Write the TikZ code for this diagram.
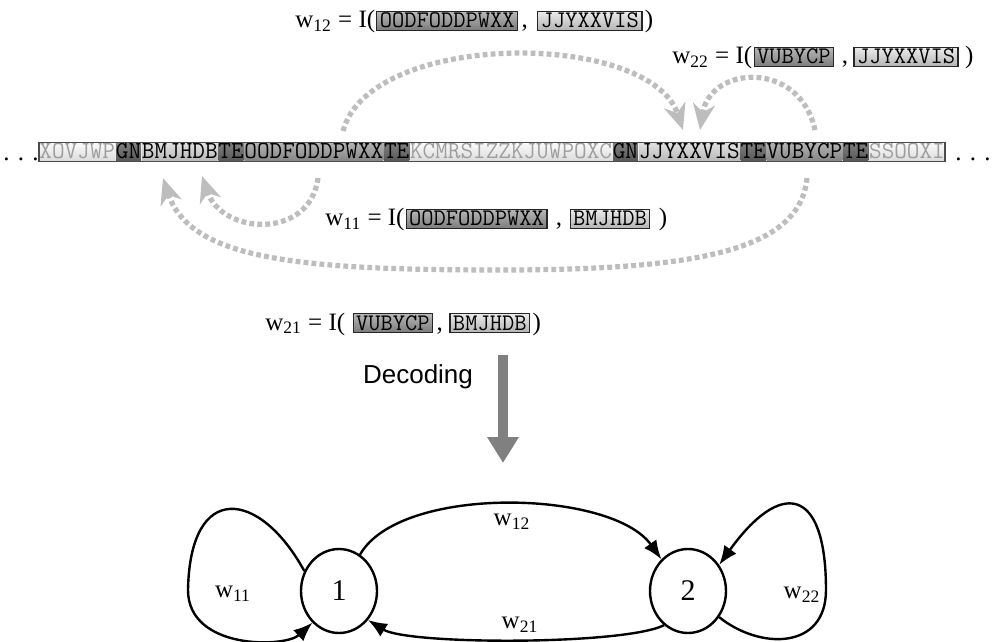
\documentclass[tikz,border=0pt]{standalone}
\usepackage{xcolor}
\usepackage{fontspec}
\setmainfont{Liberation Serif}
\setsansfont{Liberation Sans}
\usepackage{tikz}
\usetikzlibrary{shapes,arrows.meta,positioning}

\newcommand{\wsub}[1]{w\textsubscript{#1}}
\newcommand{\seqfont}{\fontsize{12.25}{14}\ttfamily}
\newcommand{\keyfont}{\fontsize{11.9}{14}\ttfamily}
\newcommand{\lblfont}{\fontsize{12.5}{14}\rmfamily}

\begin{document}
\begin{tikzpicture}[x=0.5pt,y=-0.5pt,
  seq/.style={anchor=west,inner xsep=0pt,inner ysep=0.5pt,text height=7.4pt,text depth=0.6pt,font=\seqfont},
  segpale/.style={seq,top color=black!2,bottom color=black!14,text=black!38},
  segtag/.style={seq,top color=black!50,bottom color=black!66,text=black},
  seglight/.style={seq,top color=black!12,bottom color=black!28,text=black},
  segmid/.style={seq,top color=black!30,bottom color=black!48,text=black},
  lbl/.style={inner sep=0pt,font=\lblfont},
  keybox/.style={draw=black!85,line width=0.6pt,inner xsep=1.5pt,inner ysep=1pt,text height=7.2pt,text depth=0.3pt,font=\keyfont},
  keymid/.style={keybox,top color=black!28,bottom color=black!52},
  keylight/.style={keybox,top color=black!8,bottom color=black!30},
  flow/.style={draw=black!26,line width=2.6pt,dash pattern=on 2.4pt off 1.6pt,-{Stealth[length=13pt,width=11pt,inset=4pt]}},
  stnode/.style={ellipse,draw,line width=1.2pt,minimum width=38pt,minimum height=42pt,font=\fontsize{15}{17}\rmfamily},
  link/.style={line width=1.2pt,-{Latex[length=9.5pt,width=7.5pt]}}
]
\useasboundingbox (0,0) rectangle (997,642);

% the sequence
\node[segpale] (pre) at (39,152) {XOVJWP};
\node[segtag,right=0pt of pre] (gn1) {GN};
\node[seglight,right=0pt of gn1] (bmj) {BMJHDB};
\node[segtag,right=0pt of bmj] (te1) {TE};
\node[segmid,right=0pt of te1] (ood) {OODFODDPWXX};
\node[segtag,right=0pt of ood] (te2) {TE};
\node[segpale,right=0pt of te2] (kcm) {KCMRSIZZKJUWPOXC};
\node[segtag,right=0pt of kcm] (gn2) {GN};
\node[seglight,right=0pt of gn2] (jjy) {JJYXXVIS};
\node[segtag,right=0pt of jjy] (te3) {TE};
\node[segmid,right=0pt of te3] (vub) {VUBYCP};
\node[segtag,right=0pt of vub] (te4) {TE};
\node[segpale,right=0pt of te4] (post) {SSOOXI};
\draw[black!70,line width=0.8pt] (pre.north west) rectangle (post.south east);
\node[lbl,anchor=base] (dotsl) at (21,161) {. . .};
\node[lbl,anchor=base] (dotsr) at (973,161) {. . .};

% interaction labels
\node[lbl,anchor=base west] (w12) at (295,28) {\wsub{12} = I(};
\node[keymid,base right=0.3pt of w12] (w12a) {OODFODDPWXX};
\node[lbl,base right=1.5pt of w12a] (w12c) {,};
\node[keylight,base right=4.5pt of w12c] (w12b) {JJYXXVIS};
\node[lbl,base right=1pt of w12b] (w12r) {)};

\node[lbl,anchor=base west] (w22) at (672,64) {\wsub{22} = I(};
\node[keymid,base right=0.5pt of w22] (w22a) {VUBYCP};
\node[lbl,base right=3.5pt of w22a] (w22c) {,};
\node[keylight,base right=2.5pt of w22c] (w22b) {JJYXXVIS};
\node[lbl,base right=3pt of w22b] (w22r) {)};

\node[lbl,anchor=base west] (w11) at (325,226) {\wsub{11} = I(};
\node[keymid,base right=0.3pt of w11] (w11a) {OODFODDPWXX};
\node[lbl,base right=4pt of w11a] (w11c) {,};
\node[keylight,base right=3.5pt of w11c] (w11b) {BMJHDB};
\node[lbl,base right=4pt of w11b] (w11r) {)};

\node[lbl,anchor=base west] (w21) at (265,330) {\wsub{21} = I(};
\node[keymid,base right=3.5pt of w21] (w21a) {VUBYCP};
\node[lbl,base right=1.5pt of w21a] (w21c) {,};
\node[keylight,base right=3pt of w21c] (w21b) {BMJHDB};
\node[lbl,base right=1pt of w21b] (w21r) {)};

% dotted arcs
\coordinate (a1s) at (343,131);
\coordinate (a1e) at (683,130);
\coordinate (a2s) at (815,130);
\coordinate (a2e) at (700,130);
\coordinate (a3s) at (318,178);
\coordinate (a3e) at (202,176);
\coordinate (a4s) at (807,178);
\coordinate (a4m) at (500,270);
\coordinate (a4e) at (163,178);
\draw[flow] (a1s) .. controls (370,30) and (650,30) .. (a1e);
\draw[flow] (a2s) .. controls (800,60) and (710,65) .. (a2e);
\draw[flow] (a3s) .. controls (310,240) and (222,235) .. (a3e);
\draw[flow] (a4s) .. controls (800,250) and (700,270) .. (a4m) .. controls (300,270) and (190,260) .. (a4e);

% decoding
\node[font=\fontsize{13}{15}\sffamily] (dec) at (418,377) {Decoding};
\coordinate (dtop) at (503,355);
\coordinate (dbot) at (503,463);
\draw[black!50,line width=5pt,-{Triangle[length=13pt,width=15pt]}] (dtop) -- (dbot);

% the graph
\node[stnode] (n1) at (339,591) {1};
\node[stnode] (n2) at (688,591) {2};
\coordinate (lp1) at (188,590);
\coordinate (lp2) at (826,590);
\draw[link] (n1.60) .. controls +(40,-70) and +(-50,-70) .. (n2.130);
\draw[link] (n2.235) .. controls +(-40,20) and +(40,25) .. (n1.-45);
\draw[link] (n1.150) .. controls (260,490) and (190,480) .. (lp1) .. controls (188,650) and (285,648) .. (n1.230);
\draw[link] (n2.-40) .. controls (760,650) and (826,650) .. (lp2) .. controls (826,485) and (780,480) .. (n2.40);
\node[lbl] (l12) at (512,522) {\wsub{12}};
\node[lbl] (l21) at (520,625) {\wsub{21}};
\node[lbl] (l11) at (233,594) {\wsub{11}};
\node[lbl] (l22) at (802,595) {\wsub{22}};
\end{tikzpicture}
\end{document}
